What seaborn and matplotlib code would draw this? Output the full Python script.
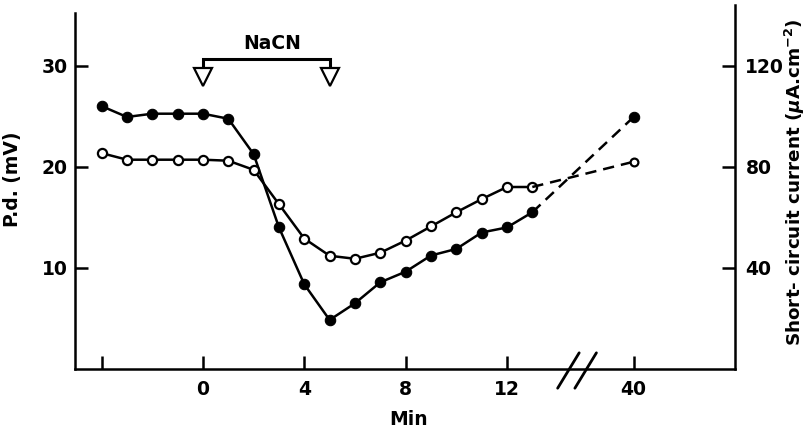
import matplotlib
matplotlib.use("Agg")
import matplotlib.pyplot as plt
import seaborn as sns
import pandas as pd

# ---------------- data ----------------
minutes = [-4, -3, -2, -1, 0, 1, 2, 3, 4, 5, 6, 7, 8, 9, 10, 11, 12, 13]
pd_mv = [21.35, 20.7, 20.7, 20.7, 20.7, 20.6, 19.7, 16.3, 12.9, 11.2, 10.9, 11.5,
         12.7, 14.1, 15.5, 16.8, 18.0, 18.0]
isc_ua = [104, 99.7, 101, 101, 101, 99, 85, 56, 33.5, 19.4, 26, 34.3, 38.5, 44.9,
          47.5, 54, 56, 62]
late_minute = 40
pd_late = 20.5
isc_late = 99.7
x_ticks = [-4, 0, 4, 8, 12]
x_tick_labels = ["", "0", "4", "8", "12"]
pd_ticks = [10, 20, 30]
isc_ticks = [40, 80, 120]
nacn_on, nacn_off = 0, 5

# ---------------- layout ----------------
BREAK_POS = 17      # plotting position used for minute 40 (broken axis)
LAST_CONT = 13


def xpos(t):
    return t if t <= LAST_CONT else BREAK_POS


sns.set_style("ticks")
plt.rcParams["font.family"] = ["DejaVu Sans"]
plt.rcParams["font.weight"] = "bold"
plt.rcParams["axes.labelweight"] = "bold"
plt.rcParams["mathtext.fontset"] = "dejavusans"
plt.rcParams["mathtext.default"] = "it"
for k in ("text.color", "axes.labelcolor", "xtick.color", "ytick.color",
          "axes.edgecolor"):
    plt.rcParams[k] = "black"
FS = 13.5

fig = plt.figure(figsize=(8.09, 4.30), dpi=100)
ax = fig.add_axes([75 / 809, 61 / 430, 660 / 809, 364 / 430])
ax2 = ax.twinx()
ax.set_zorder(ax2.get_zorder() + 1)
ax.patch.set_visible(False)

LW = 1.8
df_pd = pd.DataFrame({"pos": [xpos(t) for t in minutes], "v": pd_mv})
df_isc = pd.DataFrame({"pos": [xpos(t) for t in minutes], "v": isc_ua})

# filled circles: short-circuit current (right axis)
sns.lineplot(data=df_isc, x="pos", y="v", ax=ax2, color="black", lw=LW,
             marker="o", markersize=7.5, markerfacecolor="black",
             markeredgecolor="black", markeredgewidth=0.8)
sns.lineplot(x=[xpos(LAST_CONT), xpos(late_minute)], y=[isc_ua[-1], isc_late],
             ax=ax2, color="black", lw=LW, linestyle=(0, (4.5, 2.8)),
             marker="o", markersize=7.5, markerfacecolor="black",
             markeredgecolor="black", markevery=[1])

# open circles: p.d. (left axis)
sns.lineplot(data=df_pd, x="pos", y="v", ax=ax, color="black", lw=LW,
             marker="o", markersize=6.6, markerfacecolor="white",
             markeredgecolor="black", markeredgewidth=1.6)
sns.lineplot(x=[xpos(LAST_CONT), xpos(late_minute)], y=[pd_mv[-1], pd_late],
             ax=ax, color="black", lw=LW, linestyle=(0, (4.5, 2.8)),
             marker="o", markersize=5.6, markerfacecolor="white",
             markeredgecolor="black", markeredgewidth=1.6, markevery=[1])

# axes limits
ax.set_xlim(-5.05, 21.0)
ax.set_ylim(0, 36.0)
ax2.set_ylim(0, 144.0)

# NaCN bracket
bar_y, tri_y, tri_top = 30.7, 28.9, 29.6
ax.plot([nacn_on, nacn_on, nacn_off, nacn_off], [tri_top, bar_y, bar_y, tri_top],
        color="black", lw=2.2, solid_joinstyle="miter")
ax.plot([nacn_on, nacn_off], [tri_y, tri_y], linestyle="none", marker="v",
        markersize=13, markerfacecolor="white", markeredgecolor="black",
        markeredgewidth=1.6)
ax.text(2.75, 32.2, "NaCN", ha="center", va="center", fontsize=FS)

# axis break marks
for x0 in (14.0, 14.68):
    ax.plot([x0, x0 + 0.85], [-1.9, 1.6], color="black", lw=2.0, clip_on=False)

# ticks
ax.set_xticks(x_ticks + [xpos(late_minute)])
ax.set_xticklabels(x_tick_labels + [str(late_minute)])
ax.set_yticks(pd_ticks)
ax2.set_yticks(isc_ticks)
ax.tick_params(axis="x", direction="in", length=9.5, width=LW, labelsize=FS, pad=8)
ax.tick_params(axis="y", direction="in", length=9.5, width=LW, labelsize=FS, pad=5.5)
ax2.tick_params(axis="y", direction="in", length=9.5, width=LW, labelsize=FS, pad=7.5)

# spines
for s in ("top", "right"):
    ax.spines[s].set_visible(False)
for s in ("top", "left", "bottom"):
    ax2.spines[s].set_visible(False)
ax.spines["left"].set_bounds(0, 35.2)
for sp in (ax.spines["left"], ax.spines["bottom"], ax2.spines["right"]):
    sp.set_linewidth(LW)

# labels
ax.set_xlabel("Min", fontsize=FS)
ax.xaxis.set_label_coords(0.505, -0.113)
ax.set_ylabel("P.d. (mV)", fontsize=FS)
ax.yaxis.set_label_coords(-0.080, 0.522)
ax2.set_ylabel(r"Short- circuit current ($\mu$A.cm$^{-2}$)", fontsize=13.2)
ax2.yaxis.set_label_coords(1.072, 0.512)

fig.savefig("out.png", dpi=100)
